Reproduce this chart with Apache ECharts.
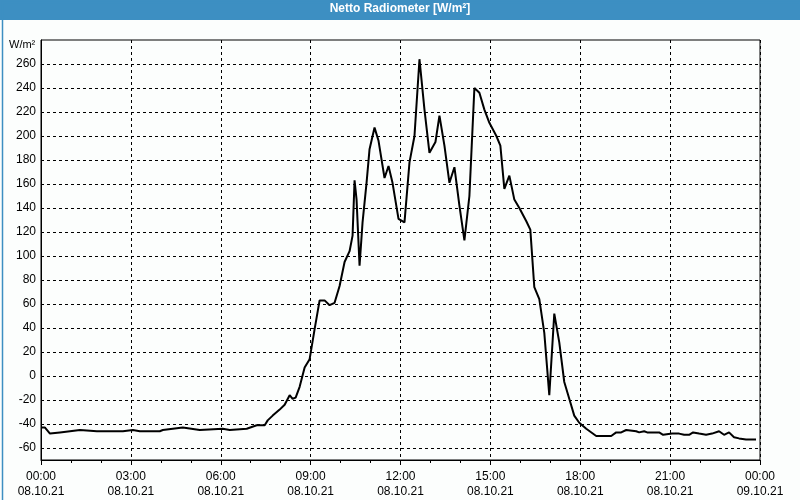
<!DOCTYPE html>
<html>
<head>
<meta charset="utf-8">
<script src="https://cdn.jsdelivr.net/npm/echarts@6/dist/echarts.min.js"></script>
<style>html,body{margin:0;padding:0;background:#fcfefd;}#c{width:800px;height:500px;}</style>
</head>
<body>
<div id="c"></div>
<script>
// Minutes since 08.10.21 00:00
var timeMinutes = [0,8,18,38,78,112,138,164,184,198,238,244,284,318,364,378,412,432,448,454,464,478,488,498,504,510,518,528,538,548,558,568,578,588,598,608,618,624,628,632,638,644,652,658,668,676,688,696,704,716,728,738,748,758,768,778,790,798,808,818,828,838,848,858,868,878,888,898,912,920,928,938,948,958,972,980,988,998,1008,1018,1028,1038,1048,1058,1068,1078,1092,1112,1142,1152,1162,1172,1192,1198,1208,1214,1238,1246,1264,1278,1288,1298,1306,1318,1332,1344,1358,1368,1378,1388,1398,1412,1432];
// Net radiation W/m²
var netRadiation = [-43,-43,-48,-47,-45,-46,-46,-46,-45,-46,-46,-45,-43,-45,-44,-45,-44,-41,-41,-37,-33,-28,-24,-16,-19,-18,-9,7,14,39,63,63,59,61,75,95,104,117,163,147,92,128,161,189,207,196,165,175,161,131,128,178,200,264,222,186,195,217,192,161,174,142,113,150,240,236,222,211,200,192,156,167,147,140,129,122,74,64,36,-16,52,28,-5,-19,-33,-39,-44,-50,-50,-47,-47,-45,-46,-47,-46,-47,-47,-49,-48,-48,-49,-49,-47,-48,-49,-48,-46,-49,-47,-51,-52,-53,-53];
var yTicks = [-60,-40,-20,0,20,40,60,80,100,120,140,160,180,200,220,240,260];
var dayLabels = ['08.10.21','09.10.21'];
var titleText = 'Netto Radiometer [W/m²]';
var unitText = 'W/m²';

var seriesData = timeMinutes.map(function(t,i){return [t, netRadiation[i]];});
function pad(n){return (n<10?'0':'')+n;}

var chart = echarts.init(document.getElementById('c'), null, {renderer:'canvas'});
var font = 'Liberation Sans';
chart.setOption({
  animation:false,
  backgroundColor:'#fcfefd',
  grid:{left:41,right:40,top:40,bottom:40,show:true,borderColor:'#000',borderWidth:1,backgroundColor:'transparent'},
  xAxis:{
    type:'value',min:0,max:1440,interval:180,
    axisLine:{show:true,onZero:false,lineStyle:{color:'#000',width:1}},
    axisTick:{show:true,length:5,inside:false,lineStyle:{color:'#000'}},
    minorTick:{show:true,splitNumber:3,length:3,lineStyle:{color:'#000'}},
    splitLine:{show:true,lineStyle:{color:'#000',type:[3,3],width:1}},
    axisLabel:{
      show:true,margin:9,color:'#000',fontFamily:font,fontSize:12,lineHeight:15,
      showMinLabel:true,showMaxLabel:true,
      formatter:function(v){
        var d = Math.floor(v/1440);
        var m = v - d*1440;
        return pad(Math.floor(m/60))+':'+pad(m%60)+'\n'+dayLabels[d];
      }
    }
  },
  yAxis:{
    type:'value',min:-70,max:280,
    axisLine:{show:true,onZero:false,lineStyle:{color:'#000',width:1}},
    axisTick:{show:false},
    splitLine:{show:false},
    axisLabel:{show:false}
  },
  series:[
    {type:'line',data:seriesData,showSymbol:false,symbol:'none',lineStyle:{color:'#000',width:2},itemStyle:{color:'#000'},z:5},
    {type:'line',data:[],markLine:{silent:true,symbol:'none',animation:false,
      label:{show:true,position:'start',distance:5,color:'#000',fontFamily:font,fontSize:12,formatter:function(p){return String(p.value);}},
      lineStyle:{color:'#000',type:[3,3],width:1},
      data:yTicks.map(function(v){return {yAxis:v};})}}
  ],
  graphic:[
    {type:'rect',left:0,top:0,shape:{width:800,height:20},style:{fill:'#3d8fc2'},z:10},
    {type:'text',left:'center',top:3,style:{text:titleText,fill:'#fff',font:'bold 12px "Liberation Sans"'},z:11},
    {type:'rect',left:0,top:0,shape:{x:0.5,y:0.5,width:799,height:499},style:{fill:'none',stroke:'#3d8fc2',lineWidth:1.5},z:10},
    {type:'text',left:9,top:39,style:{text:unitText,fill:'#000',font:'11px "Liberation Sans"'},z:11}
  ]
});
</script>
</body>
</html>
